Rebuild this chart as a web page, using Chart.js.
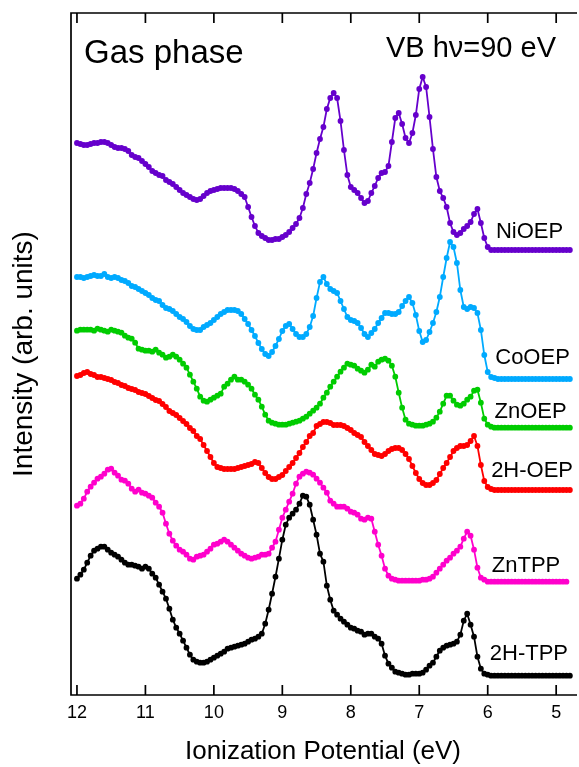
<!DOCTYPE html>
<html>
<head>
<meta charset="utf-8">
<script src="https://cdn.jsdelivr.net/npm/chart.js@4/dist/chart.umd.min.js"></script>
<style>
  html, body { margin: 0; padding: 0; background: #fff; }
  #wrap { width: 579px; height: 767px; }
</style>
</head>
<body>
<div id="wrap"><canvas id="vbChart" width="579" height="767"></canvas></div>
<script>
// photon energy grid (eV), high to low
const energy = [
  12.00, 11.95, 11.90, 11.85, 11.80, 11.75, 11.70, 11.65, 11.60, 11.55,
  11.50, 11.45, 11.40, 11.35, 11.30, 11.25, 11.20, 11.15, 11.10, 11.05,
  11.00, 10.95, 10.90, 10.85, 10.80, 10.75, 10.70, 10.65, 10.60, 10.55,
  10.50, 10.45, 10.40, 10.35, 10.30, 10.25, 10.20, 10.15, 10.10, 10.05,
  10.00, 9.95, 9.90, 9.85, 9.80, 9.75, 9.70, 9.65, 9.60, 9.55,
  9.50, 9.45, 9.40, 9.35, 9.30, 9.25, 9.20, 9.15, 9.10, 9.05,
  9.00, 8.95, 8.90, 8.85, 8.80, 8.75, 8.70, 8.65, 8.60, 8.55,
  8.50, 8.45, 8.40, 8.35, 8.30, 8.25, 8.20, 8.15, 8.10, 8.05,
  8.00, 7.95, 7.90, 7.85, 7.80, 7.75, 7.70, 7.65, 7.60, 7.55,
  7.50, 7.45, 7.40, 7.35, 7.30, 7.25, 7.20, 7.15, 7.10, 7.05,
  7.00, 6.95, 6.90, 6.85, 6.80, 6.75, 6.70, 6.65, 6.60, 6.55,
  6.50, 6.45, 6.40, 6.35, 6.30, 6.25, 6.20, 6.15, 6.10, 6.05,
  6.00, 5.95, 5.90, 5.85, 5.80, 5.75, 5.70, 5.65, 5.60, 5.55,
  5.50, 5.45, 5.40, 5.35, 5.30, 5.25, 5.20, 5.15, 5.10, 5.05,
  5.00, 4.95, 4.90, 4.85, 4.80
];

// intensities above each trace's own baseline (arb. units)
const niOEP = [
  107, 106, 105, 105, 106, 107, 107, 108, 108, 107,
  105, 103, 102, 102, 101, 99, 95, 93, 92, 89,
  86, 83, 79, 77, 75, 74, 70, 68, 66, 63,
  60, 57, 55, 53, 51, 50, 51, 54, 57, 59,
  60, 61, 62, 62, 62, 62, 61, 59, 56, 53,
  43, 33, 24, 17, 14, 12, 10, 10, 11, 11,
  13, 15, 18, 22, 26, 32, 42, 56, 67, 81,
  97, 111, 123, 141, 152, 157, 152, 129, 100, 75,
  63, 60, 57, 52, 47, 49, 57, 64, 72, 77,
  78, 84, 108, 132, 137, 126, 112, 107, 117, 135,
  161, 173, 163, 133, 101, 73, 59, 52, 43, 27,
  18, 15, 17, 21, 24, 28, 36, 41, 27, 12,
  3, 0, 0, 0, 0, 0, 0, 0, 0, 0,
  0, 0, 0, 0, 0, 0, 0, 0, 0, 0,
  0, 0, 0, 0, 0
];

const coOEP = [
  102, 102, 101, 102, 103, 104, 103, 103, 105, 102,
  101, 102, 101, 99, 98, 96, 93, 92, 90, 88,
  86, 84, 81, 79, 78, 74, 71, 70, 68, 65,
  62, 60, 57, 53, 50, 49, 49, 52, 54, 56,
  59, 62, 65, 67, 69, 69, 69, 68, 65, 60,
  55, 49, 43, 36, 30, 25, 23, 27, 33, 40,
  48, 53, 55, 50, 45, 42, 42, 45, 52, 63,
  81, 97, 102, 95, 90, 88, 86, 78, 70, 62,
  59, 58, 56, 51, 45, 42, 46, 50, 56, 61,
  66, 66, 65, 65, 67, 73, 78, 82, 76, 64,
  48, 37, 39, 47, 56, 67, 82, 102, 121, 137,
  132, 116, 89, 72, 70, 72, 71, 66, 49, 24,
  7, 2, 1, 0, 0, 0, 0, 0, 0, 0,
  0, 0, 0, 0, 0, 0, 0, 0, 0, 0,
  0, 0, 0, 0, 0
];

const znOEP = [
  97, 98, 98, 98, 98, 97, 99, 98, 97, 96,
  98, 97, 96, 95, 92, 90, 89, 85, 79, 78,
  77, 77, 76, 78, 75, 73, 70, 71, 73, 71,
  68, 64, 60, 53, 46, 39, 31, 27, 26, 28,
  30, 32, 34, 41, 44, 48, 51, 48, 48, 46,
  43, 39, 33, 28, 21, 13, 7, 5, 4, 3,
  3, 3, 4, 5, 6, 7, 9, 11, 14, 17,
  20, 24, 30, 35, 41, 46, 51, 56, 60, 64,
  63, 62, 59, 57, 55, 58, 63, 61, 66, 68,
  69, 67, 62, 51, 35, 20, 8, 4, 3, 2,
  2, 2, 3, 4, 6, 10, 16, 24, 32, 32,
  27, 23, 22, 24, 28, 31, 37, 38, 25, 9,
  3, 1, 0, 0, 0, 0, 0, 0, 0, 0,
  0, 0, 0, 0, 0, 0, 0, 0, 0, 0,
  0, 0, 0, 0, 0
];

const h2OEP = [
  114, 115, 117, 118, 116, 115, 113, 113, 112, 111,
  110, 108, 107, 105, 104, 102, 101, 100, 98, 97,
  96, 94, 92, 90, 89, 86, 83, 79, 77, 75,
  72, 69, 66, 62, 59, 54, 51, 45, 39, 33,
  27, 23, 22, 21, 21, 21, 21, 22, 23, 24,
  25, 26, 28, 27, 22, 17, 13, 11, 11, 13,
  15, 19, 23, 27, 32, 37, 43, 48, 54, 57,
  64, 66, 68, 68, 67, 65, 65, 65, 64, 62,
  60, 57, 55, 53, 48, 44, 40, 36, 35, 34,
  36, 39, 41, 42, 42, 40, 36, 31, 24, 17,
  11, 7, 5, 5, 7, 10, 16, 22, 27, 33,
  39, 42, 44, 44, 45, 49, 54, 44, 25, 9,
  3, 1, 0, 0, 0, 0, 0, 0, 0, 0,
  0, 0, 0, 0, 0, 0, 0, 0, 0, 0,
  0, 0, 0, 0, 0
];

const znTPP = [
  76, 78, 83, 90, 95, 99, 103, 105, 108, 112,
  113, 109, 106, 102, 101, 98, 93, 90, 92, 89,
  88, 86, 84, 79, 75, 69, 58, 48, 41, 36,
  32, 30, 27, 23, 22, 25, 26, 27, 30, 33,
  37, 38, 40, 42, 40, 37, 34, 31, 28, 26,
  24, 23, 24, 25, 27, 27, 28, 34, 40, 52,
  64, 72, 80, 88, 98, 105, 108, 110, 109, 107,
  103, 99, 94, 89, 81, 78, 75, 75, 75, 73,
  70, 69, 67, 63, 62, 64, 63, 50, 37, 26,
  13, 6, 3, 2, 1, 1, 1, 1, 1, 1,
  1, 2, 2, 3, 5, 9, 13, 17, 21, 24,
  28, 31, 35, 43, 50, 46, 32, 14, 4, 2,
  0, 0, 0, 0, 0, 0, 0, 0, 0, 0,
  0, 0, 0, 0, 0, 0, 0, 0, 0, 0,
  0, 0, 0, 0, null
];

const h2TPP = [
  97, 101, 106, 113, 120, 125, 127, 129, 129, 126,
  123, 121, 119, 116, 113, 111, 111, 110, 109, 107,
  109, 107, 102, 98, 91, 84, 77, 67, 56, 48,
  42, 35, 28, 21, 16, 14, 13, 13, 14, 16,
  18, 20, 22, 24, 27, 28, 29, 30, 31, 32,
  34, 36, 37, 39, 42, 52, 66, 82, 99, 117,
  136, 151, 158, 162, 166, 172, 180, 179, 171, 156,
  141, 122, 114, 90, 76, 65, 61, 57, 54, 51,
  48, 47, 45, 44, 41, 42, 42, 39, 37, 32,
  20, 12, 8, 4, 3, 2, 1, 1, 2, 2,
  2, 3, 6, 10, 13, 19, 25, 28, 30, 31,
  32, 34, 41, 55, 62, 51, 39, 19, 7, 2,
  1, 0, 0, 0, 0, 0, 0, 0, 0, 0,
  0, 0, 0, 0, 0, 0, 0, 0, 0, 0,
  0, 0, 0, 0, 0
];

const seriesNames = ['NiOEP', 'CoOEP', 'ZnOEP', '2H-OEP', 'ZnTPP', '2H-TPP'];
const seriesValues = [niOEP, coOEP, znOEP, h2OEP, znTPP, h2TPP];
// vertical stacking offsets of the traces
const baselines = [445, 316, 267.3, 205, 113.3, 19.3];
const xTicks = [12, 11, 10, 9, 8, 7, 6, 5];

const colors = ['#6600cc', '#00aaff', '#00cc00', '#ff0000', '#ff00cc', '#000000'];
const FONT = '"Liberation Sans", Arial, Helvetica, sans-serif';

const datasets = seriesNames.map((name, k) => ({
  label: name,
  data: seriesValues[k].map((v, i) => ({x: energy[i], y: v === null ? null : v + baselines[k]})),
  borderColor: colors[k],
  backgroundColor: colors[k],
  pointBackgroundColor: colors[k],
  pointBorderWidth: 0,
  pointRadius: 2.9,
  borderWidth: 1.8,
  tension: 0,
  spanGaps: false
}));

// box, inward ticks on top and bottom, and the text inside the plot
const framePlugin = {
  id: 'frame',
  afterDatasetsDraw(chart) {
    const {ctx, chartArea: a, scales} = chart;
    ctx.save();
    ctx.strokeStyle = '#000';
    ctx.lineWidth = 1.7;
    ctx.beginPath();
    ctx.moveTo(a.right + 2, a.top);
    ctx.lineTo(a.left, a.top);
    ctx.lineTo(a.left, a.bottom);
    ctx.lineTo(a.right + 2, a.bottom);
    xTicks.forEach(v => {
      const x = scales.x.getPixelForValue(v);
      ctx.moveTo(x, a.bottom);
      ctx.lineTo(x, a.bottom - 10);
      ctx.moveTo(x, a.top);
      ctx.lineTo(x, a.top + 10);
    });
    ctx.stroke();

    ctx.fillStyle = '#000';
    ctx.textBaseline = 'alphabetic';
    ctx.font = '33px ' + FONT;
    ctx.textAlign = 'left';
    ctx.fillText('Gas phase', a.left + 13, a.top + 50);
    ctx.font = '29px ' + FONT;
    ctx.textAlign = 'right';
    ctx.fillText('VB h\u03bd=90 eV', a.right - 19, a.top + 44);

    // trace names next to the flat tails
    const tags = [[5.88, 18], [5.89, 21], [5.90, 16], [5.95, 19], [5.94, 16], [5.97, 22]];
    ctx.font = '22px ' + FONT;
    ctx.textAlign = 'left';
    ctx.textBaseline = 'middle';
    seriesNames.forEach((name, k) => {
      const x = scales.x.getPixelForValue(tags[k][0]);
      const y = scales.y.getPixelForValue(baselines[k]) - tags[k][1];
      ctx.fillText(name, x, y);
    });
    ctx.restore();
  }
};

new Chart(document.getElementById('vbChart'), {
  type: 'line',
  data: {datasets},
  plugins: [framePlugin],
  options: {
    responsive: false,
    animation: false,
    devicePixelRatio: 1,
    layout: {padding: {top: 13, right: 0, left: 0, bottom: 0}},
    plugins: {legend: {display: false}, tooltip: {enabled: false}},
    elements: {line: {fill: false}},
    scales: {
      x: {
        type: 'linear',
        reverse: true,
        min: 4.725,
        max: 12.087,
        border: {display: false},
        grid: {display: false, drawTicks: false},
        afterBuildTicks: s => { s.ticks = xTicks.map(v => ({value: v})); },
        afterFit: s => { s.height = 72; },
        ticks: {
          color: '#000',
          font: {family: FONT, size: 18},
          padding: 7,
          maxRotation: 0,
          autoSkip: false
        },
        title: {
          display: true,
          text: 'Ionization Potential (eV)',
          color: '#000',
          font: {family: FONT, size: 26},
          padding: {top: 0, bottom: 0}
        }
      },
      y: {
        type: 'linear',
        min: 0,
        max: 682,
        border: {display: false},
        grid: {display: false, drawTicks: false},
        ticks: {display: false},
        afterFit: s => { s.width = 71; },
        title: {
          display: true,
          text: 'Intensity (arb. units)',
          color: '#000',
          font: {family: FONT, size: 28},
          padding: {top: 7, bottom: 0}
        }
      }
    }
  }
});
</script>
</body>
</html>
